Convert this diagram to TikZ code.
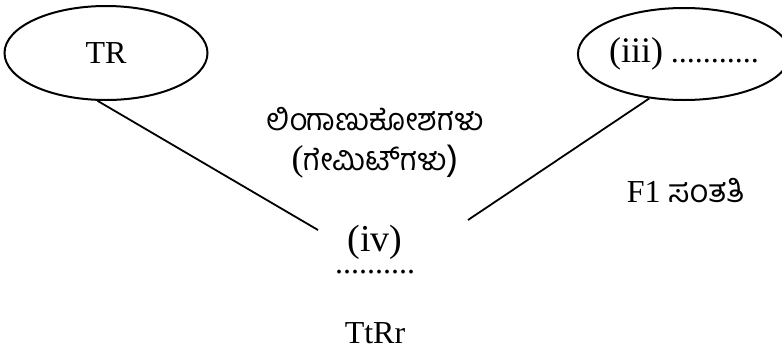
\documentclass[tikz,border=0pt]{standalone}
\usepackage{fontspec}
\setmainfont{Liberation Serif}
\newfontfamily\kannada[Script=Kannada]{Hind Mysuru}
\usetikzlibrary{shapes.geometric, positioning}

\begin{document}
\begin{tikzpicture}[x=0.5pt, y=-0.5pt,
    font=\fontsize{16}{19}\selectfont,
    parent/.style={ellipse, draw, line width=1pt, minimum width=101.5pt, minimum height=47pt, inner sep=0pt, align=center},
    txt/.style={anchor=base, inner sep=0pt, align=center},
    big/.style={font=\fontsize{19}{20}\selectfont},
    link/.style={line width=0.9pt}
]
\useasboundingbox (0,0) rectangle (782,349);

% parents
\node[parent] (tr) at (106,53) {TR};
\node[parent, minimum width=97pt, minimum height=46pt] (gen3) at (684,54) {{\fontsize{18}{20}\selectfont(iii)} ...........};

% gametes and F1 (base = last line)
\node[txt, font=\fontsize{15.3}{19}\selectfont] (gam) at (375,170)
    {\kannada ಲಿಂಗಾಣುಕೋಶಗಳು\\[1pt]{\fontsize{18}{19}\selectfont(}\kannada ಗೇಮಿಟ್^^^^200cಗಳು{\fontsize{18}{19}\selectfont)}};
\node[txt, big] (gen4) at (375,273) {(iv)\\[-9pt]{\fontsize{16}{16}\selectfont ..........}};
\node[txt] (ttrr) at (375,343) {TtRr};
\node[txt] (f1) at (686,202) {F1 {\kannada ಸಂತತಿ}};

\coordinate (lend) at (318,230);
\coordinate (rend) at (468,220);

\draw[link] (tr.260) -- (lend);
\draw[link] (gen3.232) -- (rend);

\end{tikzpicture}
\end{document}
